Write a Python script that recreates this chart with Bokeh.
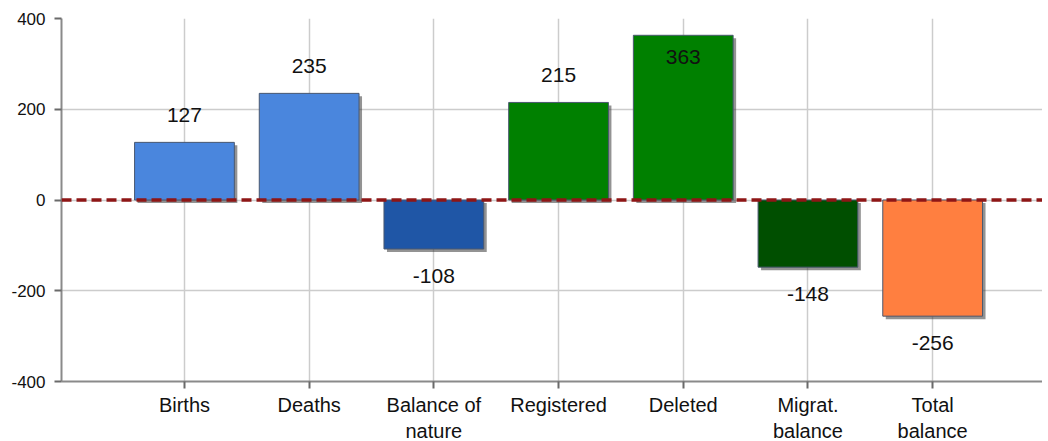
from bokeh.plotting import figure
from bokeh.models import ColumnDataSource, Span, FixedTicker, Range1d
from bokeh.core.properties import value
from bokeh.embed import file_html
from bokeh.resources import INLINE

categories = ["Births", "Deaths", "Balance of\nnature", "Registered", "Deleted",
              "Migrat.\nbalance", "Total\nbalance"]
values = [127, 235, -108, 215, 363, -148, -256]
colors = ["#4a86dd", "#4a86dd", "#1f56a6", "#008000", "#008000", "#004f00", "#ff7f40"]
y_ticks = [-400, -200, 0, 200, 400]

FONT = "Liberation Sans"
xs = list(range(1, len(values) + 1))
bar_w = 0.8
px_per_unit = 124.7
frame_w = 981

p = figure(frame_width=frame_w, frame_height=363, output_backend="svg", toolbar_location=None,
           x_range=Range1d(0.014, 0.014 + frame_w / px_per_unit), y_range=Range1d(-400, 400),
           min_border_left=61, min_border_top=18, min_border_right=0, min_border_bottom=5)
p.outline_line_color = None
p.background_fill_color = "white"

# shadows (offset in data units ~3px)
dx = 3 / px_per_unit
dy = 3 / (363 / 800)
sh = ColumnDataSource(dict(
    left=[x - bar_w / 2 + dx for x in xs],
    right=[x + bar_w / 2 + dx for x in xs],
    top=[max(v, 0) - dy for v in values],
    bottom=[min(v, 0) - dy for v in values],
))
p.quad(left="left", right="right", top="top", bottom="bottom", source=sh,
       fill_color="#3a3a3a", fill_alpha=0.55, line_color=None)

src = ColumnDataSource(dict(x=xs, top=values, color=colors))
p.vbar(x="x", top="top", bottom=0, width=bar_w, source=src, fill_color="color",
       line_color="#4a5870", line_width=1)

# value labels
lab_y = []
for v in values:
    if v >= 0:
        lab_y.append(v + 60 if v + 60 <= 390 else v - 48)
    else:
        lab_y.append(v - 60)
lsrc = ColumnDataSource(dict(x=xs, y=lab_y, t=[str(v) for v in values]))
p.text(x="x", y="y", text="t", source=lsrc, text_align="center", text_baseline="middle",
       text_font=value(FONT), text_font_size="21px", text_color="#111111")

p.add_layout(Span(location=0, dimension="width", line_color="#8e1616", line_width=3.5,
                  line_dash="10 5"))

# axes
p.xaxis.ticker = FixedTicker(ticks=xs)
p.xaxis.major_label_overrides = {x: c for x, c in zip(xs, categories)}
p.yaxis.ticker = FixedTicker(ticks=y_ticks)
p.yaxis.major_label_overrides = {t: str(t) for t in y_ticks}
for ax in (p.xaxis[0], p.yaxis[0]):
    ax.axis_line_color = "#8a8a8a"
    ax.axis_line_width = 2
    ax.major_tick_line_color = "#6a6a6a"
    ax.major_tick_line_width = 2
    ax.major_tick_out = 7
    ax.major_tick_in = 0
    ax.minor_tick_line_color = None
    ax.major_label_text_font = FONT
    ax.major_label_text_color = "#111111"
p.xaxis.major_label_text_font_size = "20px"
p.xaxis.major_label_standoff = 5
p.yaxis.major_label_text_font_size = "17px"
p.yaxis.major_label_standoff = 9

p.xgrid.ticker = FixedTicker(ticks=xs)
p.ygrid.ticker = FixedTicker(ticks=y_ticks)
p.grid.grid_line_color = "#cccccc"
p.grid.grid_line_width = 1.5

open("out.html", "w").write(file_html(p, INLINE))
